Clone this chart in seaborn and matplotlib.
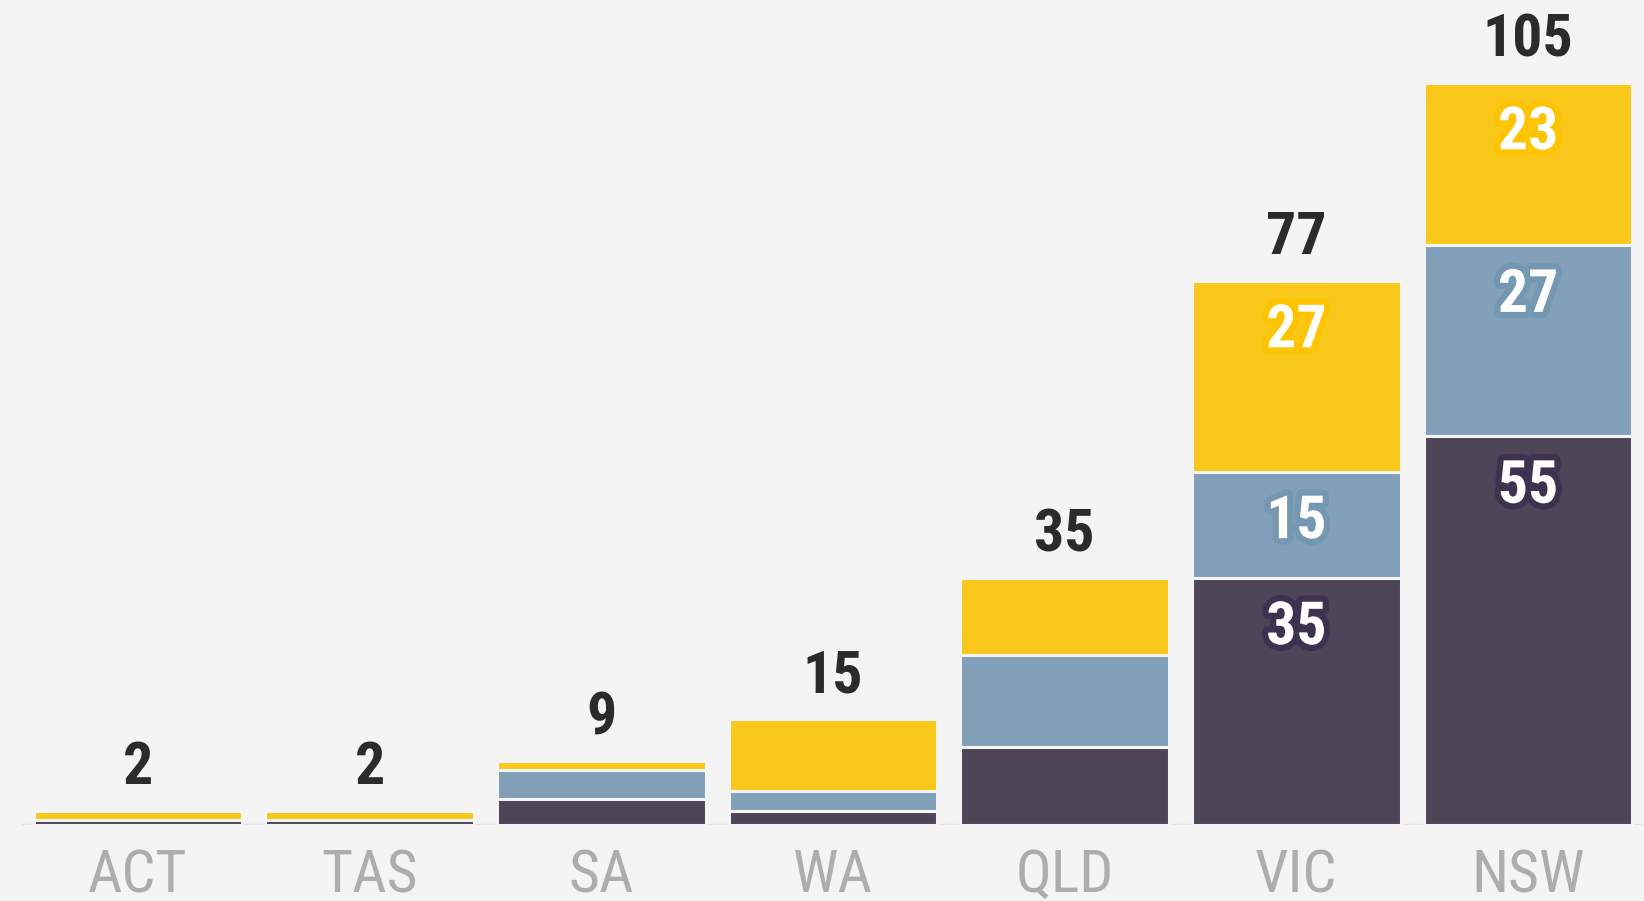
import matplotlib
matplotlib.use('Agg')
import matplotlib.pyplot as plt
import matplotlib.patheffects as pe
import seaborn as sns
import pandas as pd

# values
states = ['ACT', 'TAS', 'SA', 'WA', 'QLD', 'VIC', 'NSW']
dark_vals = [0.7, 0.7, 3.7, 2.0, 11, 35, 55]
blue_vals = [0, 0, 4.1, 2.8, 13, 15, 27]
yellow_vals = [1.3, 1.3, 1.2, 10.2, 11, 27, 23]
totals = [2, 2, 9, 15, 35, 77, 105]

bg = '#f4f4f4'
c_dark = '#4f4559'
c_blue = '#82a0b9'
c_yellow = '#f9c81a'
halos = {'dark': '#3d3250', 'blue': '#7598b2', 'yellow': '#ffc400'}

sns.set_style('white')
plt.rcParams['font.family'] = ['Roboto Condensed', 'Liberation Sans Narrow', 'DejaVu Sans']

df = pd.DataFrame({'state': states, 'dark': dark_vals, 'blue': blue_vals, 'yellow': yellow_vals})
df['cum_blue'] = df['dark'] + df['blue']
df['cum_yellow'] = df['cum_blue'] + df['yellow']

fig = plt.figure(figsize=(16.44, 9.01), dpi=100, facecolor=bg)
ax = fig.add_axes([22 / 1644, 76 / 901, 1 - 22 / 1644, 825 / 901])
ax.set_facecolor(bg)
ax.axhline(0, color='#e4e4e4', lw=2.5, zorder=0)

# stacked look: draw the cumulative heights, tallest first
for col, color in [('cum_yellow', c_yellow), ('cum_blue', c_blue), ('dark', c_dark)]:
    sns.barplot(data=df, x='state', y=col, color=color, saturation=1, width=0.9,
                edgecolor=bg, linewidth=2.2, errorbar=None, ax=ax)

ax.set_xlim(-0.5, 6.5)
ax.set_ylim(0, 825 / 7.07)

# totals above bars
for i, t in enumerate(totals):
    ax.annotate(str(t), (i, df['cum_yellow'][i]), xytext=(0, 19), textcoords='offset points',
                ha='center', va='baseline', fontsize=43, fontweight='bold', color='#2b2b2b')

# labels inside the big segments
for i in range(len(states)):
    for key, top_col in [('dark', 'dark'), ('blue', 'cum_blue'), ('yellow', 'cum_yellow')]:
        v = df[key][i]
        if v >= 15:
            ax.annotate(f'{v:.0f}', (i, df[top_col][i]), xytext=(0, -48), textcoords='offset points',
                        ha='center', va='baseline', fontsize=43, fontweight='bold', color='white',
                        path_effects=[pe.withStroke(linewidth=9, foreground=halos[key])])

ax.set_xlabel('')
ax.set_ylabel('')
ax.set_yticks([])
ax.tick_params(axis='x', length=14, width=5, color='#ececec', labelsize=43,
               labelcolor='#adadad', pad=2)
sns.despine(left=True, bottom=True)

fig.savefig('out.png', dpi=100, facecolor=bg)
